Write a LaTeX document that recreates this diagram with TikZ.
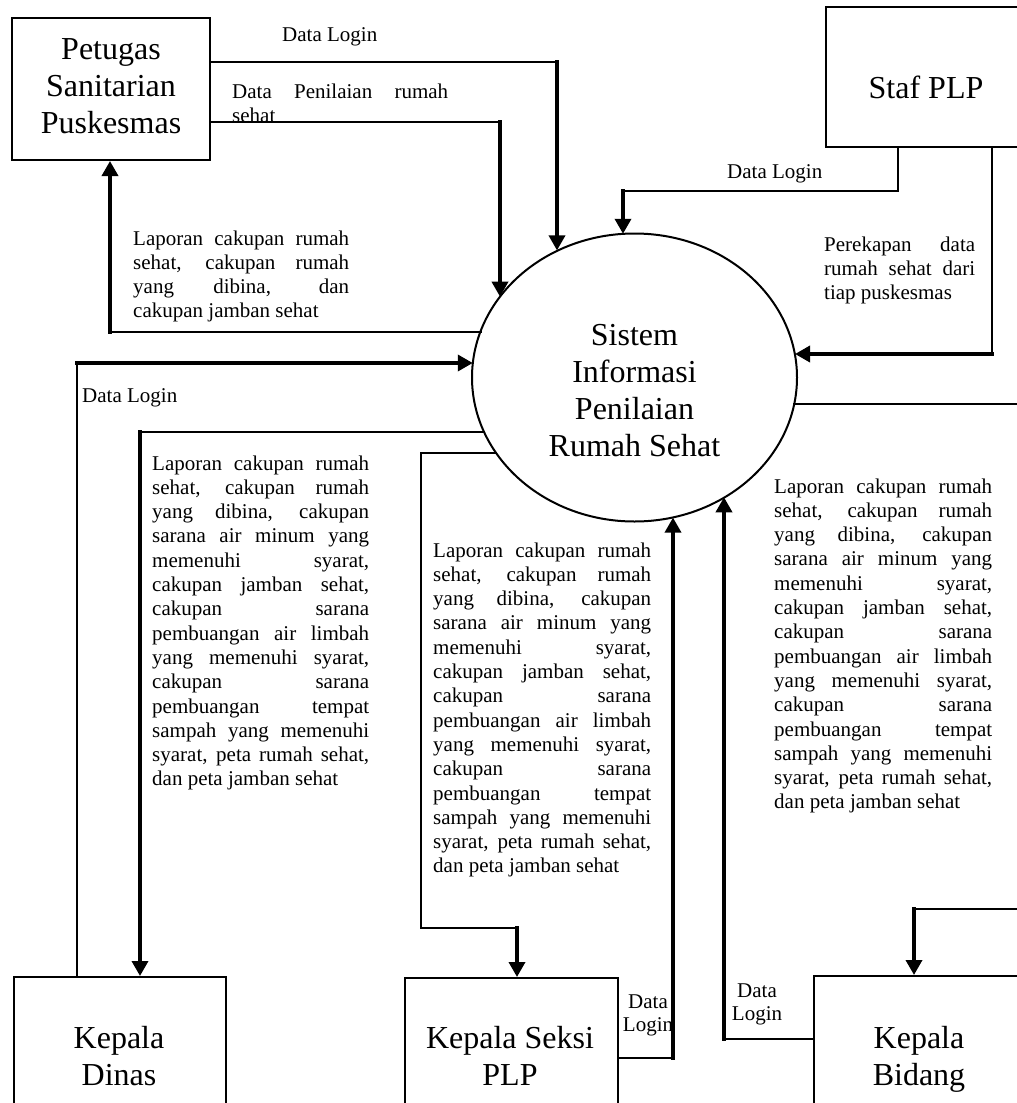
\documentclass[tikz,border=0pt]{standalone}
\usepackage{fontspec}
\setmainfont{Liberation Serif}
\usetikzlibrary{arrows.meta,shapes.geometric}
\newcommand\bigfont{\fontsize{32}{37}\selectfont}
\newcommand\smallfont{\fontsize{21}{24.3}\selectfont}
\newcommand\ctxt[1]{{\bigfont\begin{tabular}[t]{@{}c@{}}#1\end{tabular}}}
\newcommand\stxt[1]{{\fontsize{21}{23.5}\selectfont\begin{tabular}[t]{@{}c@{}}#1\end{tabular}}}
\newcommand\jl[1]{\makebox[\linewidth][s]{#1}\\}
\newcommand\jpar[2]{\parbox[t]{#1}{\smallfont #2}}
\begin{document}
\begin{tikzpicture}[x=1pt,y=-1pt,
  box/.style={draw,line width=2pt,rectangle,inner sep=0pt},
  txt/.style={inner sep=0pt,anchor=base},
  lbl/.style={inner sep=0pt,anchor=base west,font=\smallfont},
  thinl/.style={line width=1.4pt,line cap=rect},
  midl/.style={line width=2.2pt,line cap=rect},
  thickl/.style={line width=3.5pt,line cap=rect,-{Triangle[length=15pt,width=16pt]}}]
\useasboundingbox (0,0) rectangle (1017,1103);

% entities
\node[box,minimum width=198pt,minimum height=142pt] (pet) at (111,89) {};
\node[txt] (petT) at (111,59) {\ctxt{Petugas\\Sanitarian\\Puskesmas}};
\node[box,minimum width=200pt,minimum height=140pt] (staf) at (926,77) {};
\node[txt] (stafT) at (926,98) {\ctxt{Staf PLP}};
\node[box,minimum width=212pt,minimum height=150pt,anchor=north west] (dinas) at (13,976) {};
\node[txt] (dinasT) at (119,1048) {\ctxt{Kepala\\Dinas}};
\node[box,minimum width=213pt,minimum height=150pt,anchor=north west] (seksi) at (404,977) {};
\node[txt] (seksiT) at (510,1048) {\ctxt{Kepala Seksi\\PLP}};
\node[box,minimum width=212pt,minimum height=150pt,anchor=north west] (bid) at (813,975) {};
\node[txt] (bidT) at (919,1048) {\ctxt{Kepala\\Bidang}};

% process
\node[draw,ellipse,line width=2pt,minimum width=325pt,minimum height=288pt,inner sep=0pt,outer sep=0pt] (sys) at (634.5,377.5) {};
\node[txt] (sysT) at (634.5,345) {\ctxt{Sistem\\Informasi\\Penilaian\\Rumah Sehat}};

% bend points
\coordinate (a1) at (557,62);
\coordinate (a2) at (500,122);
\coordinate (a3) at (110,332);
\coordinate (b1) at (898,191);
\coordinate (b2) at (623,191);
\coordinate (b3) at (992,354);
\coordinate (c1) at (1023,404);
\coordinate (c2) at (1023,909);
\coordinate (c3) at (914,909);
\coordinate (d1) at (77,363);
\coordinate (d2) at (140,432);
\coordinate (e1) at (421,453);
\coordinate (e2) at (421,928);
\coordinate (e3) at (517,928);
\coordinate (f1) at (673,1058);
\coordinate (g1) at (724,1039);

% Petugas -> sistem : Data Login
\draw[midl] (pet.east |- a1) -- (a1);
\draw[thickl] (a1) -- (a1 |- sys.121.47);
% Petugas -> sistem : Data Penilaian
\draw[midl] (pet.east |- a2) -- (a2);
\draw[thickl] (a2) -- (a2 |- sys.149);
% sistem -> Petugas : Laporan
\draw[midl] (a3 -| sys.163.75) -- (a3);
\draw[thickl] (a3) -- (a3 |- pet.south);
% Staf -> sistem : Data Login
\draw[midl] (staf.south -| b1) -- (b1) -- (b2);
\draw[thickl] (b2) -- (b2 |- sys.94.58);
% Staf -> sistem : Perekapan
\draw[midl] (staf.south -| b3) -- (b3);
\draw[thickl] (b3) -- (b3 -| sys.8.16);
% sistem -> Kepala Bidang
\draw[midl] (c1 -| sys.-9.6) -- (c1) -- (c2) -- (c3);
\draw[thickl] (c3) -- (c3 |- bid.north);
% Kepala Dinas -> sistem : Data Login
\draw[thinl] (dinas.north -| d1) -- (d1);
\draw[thickl] (d1) -- (d1 -| sys.175.05);
% sistem -> Kepala Dinas : Laporan
\draw[midl] (d2 -| sys.200.11) -- (d2);
\draw[thickl] (d2) -- (d2 |- dinas.north);
% sistem -> Kepala Seksi : Laporan
\draw[thinl] (e1 -| sys.208.84) -- (e1) -- (e2);
\draw[midl] (e2) -- (e3);
\draw[thickl] (e3) -- (e3 |- seksi.north);
% Kepala Seksi -> sistem : Data Login
\draw[midl] (seksi.east |- f1) -- (f1);
\draw[thickl] (f1) -- (f1 |- sys.285);
% Kepala Bidang -> sistem : Data Login
\draw[midl] (bid.west |- g1) -- (g1);
\draw[thickl] (g1) -- (g1 |- sys.-53.33);

% labels
\node[lbl] (l1) at (282,41) {Data Login};
\node[lbl] (l2) at (232,98) {\jpar{216pt}{\jl{Data Penilaian rumah}sehat}};
\node[lbl] (l3) at (133,245) {\jpar{216pt}{\jl{Laporan cakupan rumah}\jl{sehat, cakupan rumah}\jl{yang dibina, dan}cakupan jamban sehat}};
\node[lbl] (l4) at (727,178) {Data Login};
\node[lbl] (l5) at (824,251) {\jpar{151pt}{\jl{Perekapan data}\jl{rumah sehat dari}tiap puskesmas}};
\node[lbl] (l6) at (82,402) {Data Login};
\node[lbl] (l7) at (152,470) {\jpar{217pt}{\jl{Laporan cakupan rumah}\jl{sehat, cakupan rumah}\jl{yang dibina, cakupan}\jl{sarana air minum yang}\jl{memenuhi syarat,}\jl{cakupan jamban sehat,}\jl{cakupan sarana}\jl{pembuangan air limbah}\jl{yang memenuhi syarat,}\jl{cakupan sarana}\jl{pembuangan tempat}\jl{sampah yang memenuhi}\jl{syarat, peta rumah sehat,}dan peta jamban sehat}};
\node[lbl] (l8) at (433,557) {\jpar{218pt}{\jl{Laporan cakupan rumah}\jl{sehat, cakupan rumah}\jl{yang dibina, cakupan}\jl{sarana air minum yang}\jl{memenuhi syarat,}\jl{cakupan jamban sehat,}\jl{cakupan sarana}\jl{pembuangan air limbah}\jl{yang memenuhi syarat,}\jl{cakupan sarana}\jl{pembuangan tempat}\jl{sampah yang memenuhi}\jl{syarat, peta rumah sehat,}dan peta jamban sehat}};
\node[lbl] (l9) at (774,493) {\jpar{218pt}{\jl{Laporan cakupan rumah}\jl{sehat, cakupan rumah}\jl{yang dibina, cakupan}\jl{sarana air minum yang}\jl{memenuhi syarat,}\jl{cakupan jamban sehat,}\jl{cakupan sarana}\jl{pembuangan air limbah}\jl{yang memenuhi syarat,}\jl{cakupan sarana}\jl{pembuangan tempat}\jl{sampah yang memenuhi}\jl{syarat, peta rumah sehat,}dan peta jamban sehat}};
\node[txt] (l10) at (648,1008) {\stxt{Data\\Login}};
\node[txt] (l11) at (757,997) {\stxt{Data\\Login}};
\end{tikzpicture}
\end{document}
